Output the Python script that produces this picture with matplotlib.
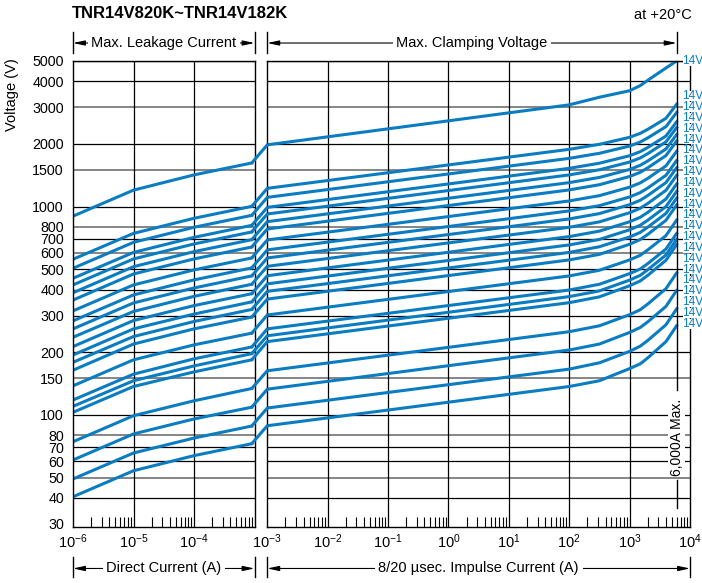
import matplotlib
matplotlib.use("Agg")
import matplotlib.pyplot as plt
import matplotlib.transforms as mtransforms
from matplotlib.patches import ConnectionPatch
from matplotlib.ticker import LogLocator, NullLocator, NullFormatter

plt.rcParams["font.family"] = ["Liberation Sans", "DejaVu Sans"]
plt.rcParams["mathtext.fontset"] = "custom"
plt.rcParams["mathtext.rm"] = "Liberation Sans"
plt.rcParams["mathtext.it"] = "Liberation Sans:italic"
plt.rcParams["mathtext.bf"] = "Liberation Sans:bold"

BLUE = "#0a7dc2"

# direct (leakage) current points and 8/20us impulse current points, A
leak_current = [1e-6, 1e-5, 1e-4, 9e-4]
impulse_current = [1e-3, 1e2, 316, 1e3, 1.5e3, 2e3, 4e3, 6e3]

# one row per varistor, from TNR14V182K (top) down to TNR14V820K
leak_voltage = [
    [900, 1200, 1420, 1620],
    [559, 744, 879, 1003],
    [506, 674, 796, 908],
    [453, 603, 712, 813],
    [421, 561, 662, 756],
    [386, 515, 608, 694],
    [356, 475, 561, 640],
    [316, 421, 497, 567],
    [283, 377, 445, 508],
    [259, 345, 407, 465],
    [236, 314, 371, 424],
    [213, 284, 335, 382],
    [194, 259, 305, 349],
    [179, 238, 281, 321],
    [164, 219, 259, 295],
    [138, 184, 217, 247],
    [118, 157, 186, 212],
    [110, 146, 172, 197],
    [103, 137, 161, 184],
    [74.4, 99.2, 117, 134],
    [60.8, 81.1, 95.7, 109],
    [49.3, 65.7, 77.5, 88.5],
    [40.5, 54.0, 63.8, 72.8],
]
clamp_voltage = [
    [1980, 3080, 3350, 3600, 3809, 4040, 4630, 5000],
    [1224, 1884, 1991, 2151, 2248, 2350, 2654, 3098],
    [1108, 1705, 1803, 1954, 2043, 2138, 2421, 2830],
    [992, 1527, 1616, 1755, 1836, 1923, 2183, 2553],
    [922, 1420, 1503, 1637, 1713, 1796, 2045, 2395],
    [847, 1304, 1381, 1508, 1579, 1657, 1891, 2216],
    [781, 1203, 1274, 1395, 1462, 1536, 1758, 2063],
    [692, 1065, 1129, 1240, 1300, 1367, 1569, 1843],
    [620, 954, 1011, 1113, 1168, 1229, 1414, 1663],
    [567, 873, 926, 1022, 1073, 1131, 1305, 1536],
    [517, 796, 845, 935, 982, 1036, 1198, 1412],
    [466, 718, 763, 846, 889, 939, 1088, 1284],
    [426, 655, 696, 774, 814, 861, 1001, 1182],
    [392, 603, 642, 715, 752, 797, 928, 1097],
    [360, 555, 590, 660, 695, 736, 860, 1018],
    [302, 465, 495, 555, 584, 620, 726, 861],
    [259, 398, 424, 477, 502, 533, 626, 743],
    [240, 370, 394, 444, 468, 498, 586, 696],
    [225, 346, 369, 417, 440, 468, 553, 657],
    [163, 251, 268, 303, 320, 341, 404, 480],
    [133, 205, 219, 249, 263, 280, 332, 396],
    [108, 166, 178, 202, 214, 228, 271, 323],
    [88.8, 137, 146, 167, 176, 188, 225, 268],
]
curve_label = "14V"

volt_ticks = [30, 40, 50, 60, 70, 80, 100, 150, 200, 300, 400, 500, 600,
              700, 800, 1000, 1500, 2000, 3000, 4000, 5000]
gray_ticks = [50, 80, 150, 600, 800, 1500, 3000]
max_impulse = 6000

W, H = 702, 583
fig = plt.figure(figsize=(W / 100, H / 100), dpi=100)
ax1 = fig.add_axes([73 / W, 56 / H, 181.5 / W, 466 / H])
ax2 = fig.add_axes([267.3 / W, 56 / H, 422.7 / W, 466 / H])

for ax, lim in ((ax1, (1e-6, 1e-3)), (ax2, (1e-3, 1e4))):
    ax.set_xscale("log")
    ax.set_yscale("log")
    ax.set_xlim(*lim)
    ax.set_ylim(29, 5000)
    for v in volt_ticks[1:]:
        if v in gray_ticks:
            ax.axhline(v, color="#858585", lw=1.4, zorder=1)
        else:
            ax.axhline(v, color="black", lw=0.9, zorder=1)
    for s in ax.spines.values():
        s.set_linewidth(1.0)
    ax.set_yticks(volt_ticks)
    ax.yaxis.set_minor_locator(NullLocator())
    ax.xaxis.set_minor_locator(LogLocator(base=10, subs=range(2, 10)))
    ax.xaxis.set_minor_formatter(NullFormatter())
    ax.tick_params(axis="x", which="major", length=0, pad=4, labelsize=10.5)
    ax.tick_params(axis="x", which="minor", direction="in", length=7,
                   width=0.8, top=False)
    ax.tick_params(axis="y", length=0)

ax1.set_xticks([1e-6, 1e-5, 1e-4])
for d in [1e-5, 1e-4]:
    ax1.axvline(d, color="black", lw=0.9, zorder=1)
for d in [1e-2, 1e-1, 1e0, 1e1, 1e2, 1e3]:
    ax2.axvline(d, color="black", lw=0.9, zorder=1)
ax2.set_xticks([1e-3, 1e-2, 1e-1, 1e0, 1e1, 1e2, 1e3, 1e4])

ax1.set_yticklabels([str(v) for v in volt_ticks])
ax1.tick_params(axis="y", pad=6.5, labelsize=10.3)
ax2.tick_params(axis="y", labelleft=False)

# curves + jump across the gap between the panels
for lv, cv in zip(leak_voltage, clamp_voltage):
    ax1.plot(leak_current, lv, color=BLUE, lw=2.2, zorder=2)
    ax2.plot(impulse_current, cv, color=BLUE, lw=2.2, zorder=2)
    con = ConnectionPatch(xyA=(leak_current[-1], lv[-1]), coordsA=ax1.transData,
                          xyB=(impulse_current[0], cv[0]), coordsB=ax2.transData,
                          color=BLUE, lw=2.2)
    fig.add_artist(con)

# part labels at the right, stacked upward from the lowest curve
lab_kw = dict(textcoords="offset points", ha="left", va="center", fontsize=8.6,
              color=BLUE, zorder=6,
              bbox=dict(boxstyle="square,pad=-0.1", fc="white", ec="none"))
ax2.annotate(curve_label, xy=(impulse_current[-1], clamp_voltage[0][-1]),
             xytext=(3.6, 0), **lab_kw)
bottom_end = clamp_voltage[-1][-1]
for i in range(len(clamp_voltage) - 1):
    ax2.annotate(curve_label, xy=(impulse_current[-1], bottom_end),
                 xytext=(3.6, 1.5 + i * 7.8), **lab_kw)

# 6,000 A max line
tr2 = mtransforms.blended_transform_factory(ax2.transData, ax2.transAxes)
ax2.plot([max_impulse, max_impulse], [0.294, 1.0], transform=tr2,
         color="black", lw=1.0, clip_on=False, zorder=3)
ax2.plot([max_impulse, max_impulse], [0.041, 0.101], transform=tr2,
         color="black", lw=1.0, clip_on=False, zorder=3)
ax2.text(max_impulse, 0.192, "6,000A Max.", transform=tr2, rotation=90,
         ha="center", va="center", fontsize=10, zorder=6,
         bbox=dict(boxstyle="square,pad=0.1", fc="white", ec="none"))


def span(ax, x0, x1, y, ybar, text):
    tr = mtransforms.blended_transform_factory(ax.transData, ax.transAxes)
    for x in (x0, x1):
        ax.plot([x, x], ybar, transform=tr, color="black", lw=1.0, clip_on=False)
    ax.annotate("", xy=(x0, y), xytext=(x1, y), xycoords=tr, textcoords=tr,
                arrowprops=dict(arrowstyle="<|-|>,head_length=0.7,head_width=0.15",
                                color="black", lw=0.8, shrinkA=0, shrinkB=0))
    xm = (x0 * x1) ** 0.5
    ax.text(xm, y, text, transform=tr, ha="center", va="center", fontsize=10.5,
            zorder=6, bbox=dict(boxstyle="square,pad=0.25", fc="white", ec="none"))


span(ax1, 1e-6, 1e-3, 1.0386, (1.0172, 1.0622), "Max. Leakage Current")
span(ax2, 1e-3, max_impulse, 1.0386, (1.0172, 1.0622), "Max. Clamping Voltage")
span(ax1, 1e-6, 1e-3, -0.089, (-0.0644, -0.1073), "Direct Current (A)")
span(ax2, 1e-3, 1e4, -0.089, (-0.0644, -0.1073), "8/20 \u00b5sec. Impulse Current (A)")

fig.text(72 / W, 1 - 14 / H, "TNR14V820K~TNR14V182K", fontsize=12,
         fontweight="bold", ha="left", va="center")
fig.text(692 / W, 1 - 15 / H, "at +20\u00b0C", fontsize=10.5, ha="right",
         va="center")
fig.text(12 / W, 1 - 95 / H, "Voltage (V)", rotation=90, fontsize=10.5,
         ha="center", va="center")

fig.savefig("out.png", dpi=100)
